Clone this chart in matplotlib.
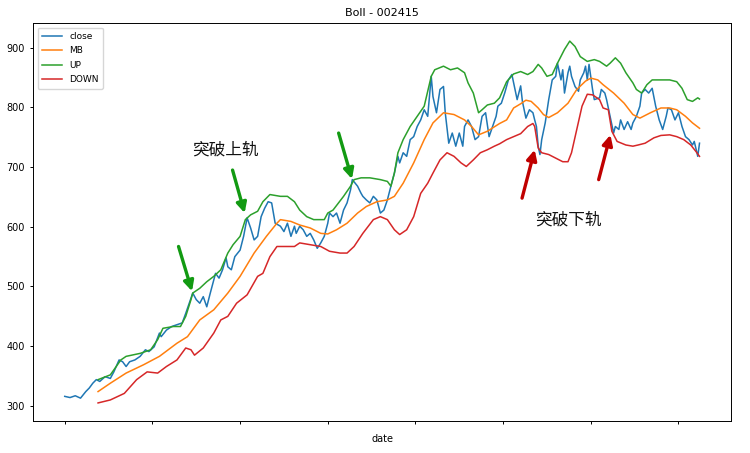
import matplotlib
matplotlib.use("Agg")
import matplotlib.pyplot as plt

plt.rcParams['font.family'] = ['DejaVu Sans']

# ---- data ----
close_idx = [0, 3, 6, 9, 12, 14, 16, 18, 20, 23, 26, 28, 31, 33, 35, 37, 40, 43, 46, 48,
             51, 54, 55, 58, 61, 64, 67, 69, 71, 73, 75, 77, 79, 81, 83, 86, 88, 90, 92, 93,
             95, 97, 100, 102, 104, 106, 108, 110, 112, 114, 116, 118, 120, 123, 125, 127, 129, 131, 132, 134,
             136, 138, 140, 142, 144, 146, 148, 150, 151, 153, 155, 157, 159, 161, 163, 164, 167, 169, 170, 172,
             174, 176, 178, 180, 182, 184, 186, 188, 190, 191, 193, 195, 197, 199, 201, 203, 205, 207, 209, 210,
             212, 214, 216, 217, 219, 221, 223, 225, 227, 228, 230, 232, 234, 236, 238, 240, 242, 244, 246, 247,
             249, 251, 253, 255, 258, 260, 261, 263, 265, 267, 268, 269, 270, 271, 272, 274, 276, 278, 280, 281,
             283, 284, 285, 287, 288, 289, 291, 293, 294, 296, 297, 298, 299, 301, 302, 305, 306, 308, 309, 311,
             313, 314, 316, 317, 319, 321, 323, 324, 326, 328, 329, 331, 333, 335, 337, 339, 341, 343, 344, 346,
             348, 350, 352, 354, 356, 358, 359, 361, 362]
close_vals = [316, 314, 317, 313, 324, 330, 338, 344, 341, 349, 346, 357, 377, 374, 366, 374, 377, 383, 394, 391,
              399, 422, 416, 427, 433, 436, 439, 455, 472, 489, 478, 472, 483, 466, 489, 522, 514, 528, 548, 533,
              528, 550, 561, 584, 615, 598, 578, 584, 617, 631, 642, 640, 606, 601, 592, 606, 584, 601, 589, 601,
              595, 584, 589, 578, 564, 573, 584, 606, 623, 617, 623, 606, 628, 640, 662, 679, 668, 656, 651, 645,
              640, 651, 645, 623, 628, 645, 668, 690, 718, 707, 724, 718, 746, 751, 768, 779, 796, 785, 852, 818,
              791, 830, 835, 791, 740, 757, 735, 757, 735, 768, 779, 768, 746, 751, 785, 791, 751, 768, 785, 802,
              807, 825, 846, 855, 813, 836, 810, 782, 796, 791, 779, 768, 735, 721, 746, 774, 813, 846, 852, 874,
              846, 863, 824, 858, 869, 852, 835, 827, 846, 858, 869, 846, 872, 830, 813, 816, 830, 824, 813, 785,
              757, 768, 763, 779, 763, 776, 763, 774, 785, 802, 824, 830, 824, 832, 802, 779, 763, 785, 799, 796,
              779, 791, 768, 751, 746, 737, 743, 718, 740]

mb_idx = [19, 26, 35, 45, 54, 64, 70, 77, 85, 93, 100, 108, 115, 121, 123, 129, 134, 140, 146, 150,
          155, 161, 167, 172, 178, 184, 188, 193, 199, 205, 210, 216, 222, 228, 232, 236, 241, 248, 252, 256,
          260, 263, 266, 270, 273, 276, 281, 287, 292, 297, 300, 304, 307, 313, 319, 324, 328, 334, 340, 345,
          349, 354, 358, 362]
mb_vals = [324, 338, 355, 369, 383, 405, 416, 444, 461, 489, 517, 556, 584, 606, 612, 609, 603, 598, 589, 588,
           595, 606, 623, 634, 642, 645, 651, 673, 707, 746, 774, 791, 788, 779, 768, 754, 760, 773, 779, 799,
           806, 812, 810, 799, 788, 783, 791, 807, 830, 844, 849, 846, 838, 824, 807, 788, 782, 791, 799, 799,
           796, 785, 774, 765]

up_idx = [19, 26, 32, 35, 43, 49, 53, 56, 62, 66, 69, 72, 73, 77, 81, 85, 89, 93, 96, 100,
          103, 106, 110, 113, 117, 123, 127, 131, 134, 138, 142, 148, 150, 153, 159, 163, 165, 169, 174, 180,
          184, 186, 188, 190, 193, 197, 201, 205, 209, 211, 216, 220, 224, 228, 230, 233, 236, 238, 241, 245,
          248, 252, 256, 260, 264, 267, 270, 272, 275, 278, 281, 285, 288, 291, 294, 298, 302, 305, 309, 311,
          314, 317, 320, 324, 326, 329, 332, 335, 340, 345, 349, 352, 355, 358, 361, 362]
up_vals = [344, 352, 377, 383, 388, 394, 411, 430, 433, 433, 450, 478, 489, 497, 508, 517, 528, 556, 570, 584,
           612, 620, 626, 642, 654, 651, 651, 642, 628, 617, 612, 612, 623, 628, 651, 668, 679, 682, 682, 679,
           676, 668, 690, 724, 746, 768, 785, 802, 852, 863, 869, 863, 866, 858, 841, 824, 791, 796, 804, 807,
           816, 843, 856, 860, 855, 860, 872, 866, 852, 855, 874, 897, 911, 902, 885, 877, 880, 877, 869, 874,
           883, 874, 858, 841, 830, 824, 838, 846, 846, 846, 843, 832, 813, 810, 816, 814]

down_idx = [19, 26, 34, 41, 47, 53, 58, 64, 69, 72, 74, 79, 85, 89, 93, 98, 104, 110, 113, 117,
            121, 127, 131, 134, 140, 146, 151, 157, 161, 165, 170, 176, 180, 184, 188, 191, 195, 199, 203, 207,
            210, 214, 218, 222, 226, 229, 233, 237, 241, 245, 248, 252, 256, 260, 264, 267, 268, 270, 272, 276,
            280, 284, 287, 289, 292, 295, 298, 301, 305, 307, 310, 312, 315, 320, 324, 327, 331, 336, 340, 345,
            349, 353, 357, 360, 362]
down_vals = [305, 310, 321, 344, 357, 355, 366, 377, 397, 394, 385, 397, 422, 444, 450, 472, 486, 517, 522, 550,
             567, 567, 567, 573, 570, 567, 559, 556, 556, 567, 589, 612, 617, 612, 595, 587, 595, 617, 656, 673,
             690, 712, 724, 718, 707, 701, 712, 724, 729, 735, 739, 746, 751, 756, 768, 773, 768, 732, 724, 721,
             715, 709, 709, 724, 763, 802, 822, 821, 813, 799, 796, 760, 743, 737, 735, 737, 740, 749, 753, 754,
             751, 746, 737, 726, 718]

x_ticks = [0, 50, 100, 150, 200, 250, 300, 350]
series_names = ['close', 'MB', 'UP', 'DOWN']
title_text = 'Boll - 002415'
label_up = '突破上轨'
label_down = '突破下轨'

# ---- figure ----
fig = plt.figure(figsize=(7.5, 4.53), dpi=100)
ax = fig.add_axes([0.044, 0.0706, 0.931, 0.8786])

lw = 1.1
ax.plot(close_idx, close_vals, color='#1f77b4', lw=lw, label=series_names[0])
ax.plot(mb_idx, mb_vals, color='#ff7f0e', lw=lw, label=series_names[1])
ax.plot(up_idx, up_vals, color='#2ca02c', lw=lw, label=series_names[2])
ax.plot(down_idx, down_vals, color='#d62728', lw=lw, label=series_names[3])

ax.set_xticks(x_ticks)
ax.set_xticklabels([''] * len(x_ticks))
ax.tick_params(labelsize=7, length=2.5, width=0.7)
for s in ax.spines.values():
    s.set_linewidth(0.7)
ax.set_xlabel('date', fontsize=7, labelpad=3)
ax.set_title(title_text, fontsize=8, pad=5)
ax.legend(loc='upper left', fontsize=6.5, handlelength=2.2, borderpad=0.5, labelspacing=0.6)

# arrows (annotations)
green = '#129a12'
red = '#c00000'
arrows = [((64.9, 567), (72.6, 492), green),
          ((95.7, 695), (102.6, 623), green),
          ((156.2, 757), (163.8, 680), green),
          ((260.8, 648), (268.0, 729), red),
          ((304.5, 679), (311.2, 754), red)]
for tail, head, col in arrows:
    ax.annotate('', xy=head, xytext=tail,
                arrowprops=dict(arrowstyle='-|>,head_length=0.6,head_width=0.3',
                                color=col, lw=2.4, shrinkA=0, shrinkB=0))

cjk = ['Noto Sans CJK SC', 'DejaVu Sans']
ax.text(91.6, 729, label_up, family=cjk, fontsize=12, ha='center', va='center',
        color='#111111', fontweight='medium')
ax.text(287.3, 612, label_down, family=cjk, fontsize=12, ha='center', va='center',
        color='#111111', fontweight='medium')

fig.savefig('out.png', dpi=100)
